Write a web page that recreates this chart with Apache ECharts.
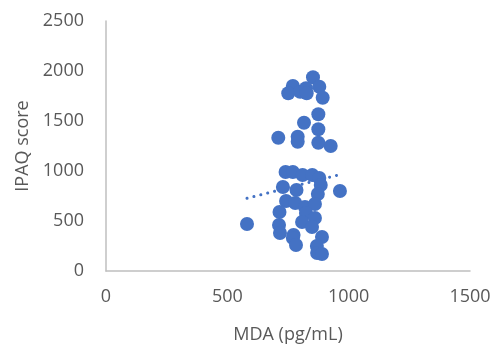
<!DOCTYPE html>
<html>
<head>
<meta charset="utf-8">
<script src="https://cdn.jsdelivr.net/npm/echarts@6/dist/echarts.min.js"></script>
<style>
  html, body { margin: 0; padding: 0; background: #fff; }
  #chart { width: 494px; height: 352px; }
</style>
</head>
<body>
<div id="chart"></div>
<script>
// MDA concentration (pg/mL) for each participant
const mda = [
  853, 770, 751, 800, 824, 827, 879, 893, 875, 816, 875, 710, 790, 790, 875, 926,
  740, 770, 810, 850, 879, 885, 729, 785, 873, 964, 742, 780, 820, 861, 715, 824,
  861, 808, 581, 713, 773, 849, 717, 770, 890, 783, 869, 870, 890
];
// IPAQ physical activity score for the same participants
const ipaq = [
  1937, 1850, 1777, 1793, 1827, 1777, 1843, 1733, 1567, 1483, 1417, 1333, 1343, 1293, 1283, 1250,
  990, 990, 960, 960, 930, 860, 840, 810, 770, 800, 700, 680, 640, 670, 590, 580,
  530, 490, 470, 460, 360, 440, 380, 330, 340, 260, 250, 180, 170
];
// Linear trendline end points
const trendX = [581, 962];
const trendY = [727, 963];

// Axis ticks
const xTicks = [0, 500, 1000, 1500];
const yTicks = [0, 500, 1000, 1500, 2000, 2500];

const blue = '#4472C4';
const labelFont = { color: '#595959', fontSize: 18, fontFamily: 'Open Sans' };
const plain = v => String(v);

const chart = echarts.init(document.getElementById('chart'));
chart.setOption({
  animation: false,
  grid: { left: 106, right: 24, top: 21, bottom: 81 },
  xAxis: {
    type: 'value',
    min: xTicks[0],
    max: xTicks[xTicks.length - 1],
    interval: xTicks[1] - xTicks[0],
    name: 'MDA (pg/mL)',
    nameLocation: 'middle',
    nameGap: 55,
    nameTextStyle: { color: '#595959', fontSize: 18, fontFamily: 'Open Sans' },
    axisLine: { show: true, lineStyle: { color: '#BFBFBF', width: 1.5 } },
    axisTick: { show: false },
    splitLine: { show: false },
    axisLabel: Object.assign({ margin: 17, formatter: plain }, labelFont)
  },
  yAxis: {
    type: 'value',
    min: yTicks[0],
    max: yTicks[yTicks.length - 1],
    interval: yTicks[1] - yTicks[0],
    name: 'IPAQ score',
    nameLocation: 'middle',
    nameGap: 74,
    nameTextStyle: { color: '#595959', fontSize: 18, fontFamily: 'Open Sans' },
    axisLine: { show: true, lineStyle: { color: '#BFBFBF', width: 1.5 } },
    axisTick: { show: false },
    splitLine: { show: false },
    axisLabel: Object.assign({ margin: 22, formatter: plain }, labelFont)
  },
  series: [
    {
      type: 'line',
      data: trendX.map((x, i) => [x, trendY[i]]),
      symbol: 'none',
      silent: true,
      z: 1,
      lineStyle: { color: blue, width: 3, type: [0.1, 7], cap: 'round' }
    },
    {
      type: 'scatter',
      data: mda.map((x, i) => [x, ipaq[i]]),
      symbol: 'circle',
      symbolSize: 14,
      z: 2,
      itemStyle: { color: blue, opacity: 1 }
    }
  ]
});
</script>
</body>
</html>
